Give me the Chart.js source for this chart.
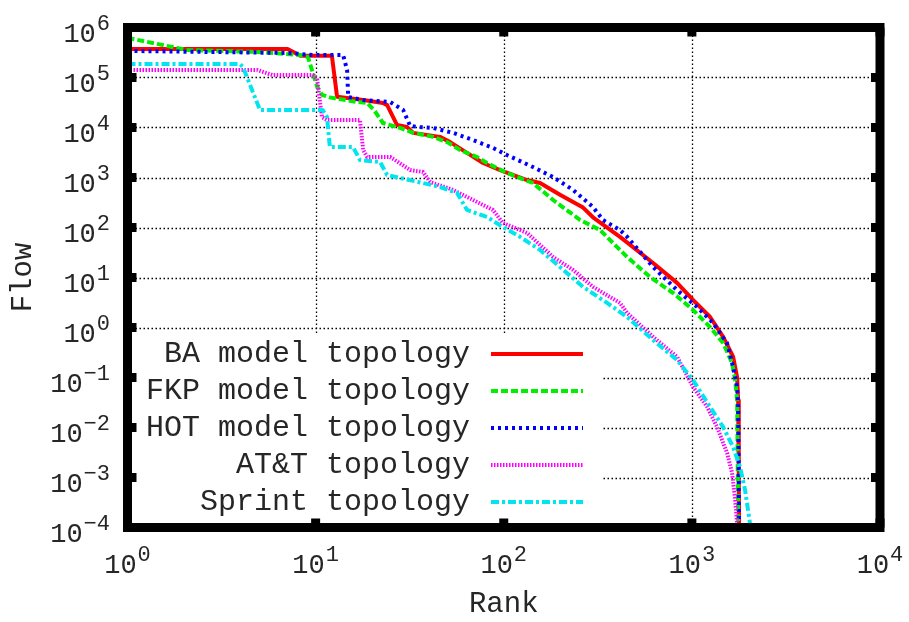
<!DOCTYPE html>
<html>
<head>
<meta charset="utf-8">
<title>Flow vs Rank</title>
<script src="https://cdn.jsdelivr.net/npm/chart.js@4.4.1/dist/chart.umd.min.js"></script>
<style>
  html, body { margin: 0; padding: 0; background: #fff; }
  #flowChart { display: block; }
</style>
</head>
<body>
<canvas id="flowChart" width="909" height="622"></canvas>
<script>
// Tick exponents, labels are drawn as 10^n
const xExponents = [0, 1, 2, 3, 4];
const yExponents = [-4, -3, -2, -1, 0, 1, 2, 3, 4, 5, 6];

const seriesLabels = ['BA model topology', 'FKP model topology', 'HOT model topology', 'AT&T topology', 'Sprint topology'];

// Values (rank, flow)
const baRank = [1, 7.1, 8.3, 12.2, 13.0, 17.9, 22.8, 24.0, 27.1, 30.6, 33.0, 45.8, 51.9, 63.8, 77.6, 95.6, 133, 156, 199, 264, 298, 415, 622, 834, 1014, 1250, 1466, 1656, 1740, 1762, 1775, 1785];
const baFlow = [3.7e5, 3.7e5, 2.73e5, 2.73e5, 4.1e4, 3.55e4, 3.1e4, 2.8e4, 1.12e4, 1.02e4, 7.8e3, 6.5e3, 5.1e3, 3.1e3, 1.95e3, 1.41e3, 890, 776, 450, 250, 160, 65, 19.5, 7.8, 3.55, 1.62, 0.65, 0.26, 0.1, 0.035, 0.001, 5e-5];

const fkpRank = [1, 2.07, 4.9, 8.3, 9.1, 10.2, 10.8, 11.9, 16.6, 18.8, 20.5, 22.8, 28.1, 33.0, 42.1, 50.0, 58.6, 72.1, 81.5, 104, 143, 183, 255, 325, 415, 453, 600, 795, 1014, 1250, 1466, 1636, 1698, 1740, 1755, 1765];
const fkpFlow = [6.2e5, 3.55e5, 3.24e5, 2.82e5, 2.57e5, 6.5e4, 4.5e4, 4.0e4, 3.24e4, 3.1e4, 2.2e4, 1.23e4, 9.8e3, 7.8e3, 6.5e3, 5.1e3, 3.55e3, 2.57e3, 1.95e3, 1.23e3, 776, 355, 141, 89, 35.5, 25.7, 10.2, 4.9, 2.24, 1.02, 0.49, 0.195, 0.089, 0.035, 0.001, 5e-5];

const hotRank = [1, 7.0, 9.7, 14.0, 14.7, 14.9, 17.9, 24.9, 29.2, 31.8, 35.9, 42.1, 53.8, 68.7, 87.7, 104, 143, 183, 234, 298, 337, 415, 453, 622, 834, 1066, 1297, 1538, 1656, 1740, 1762, 1775, 1783];
const hotFlow = [3.4e5, 3.1e5, 2.82e5, 2.82e5, 1.41e5, 4.07e4, 3.55e4, 3.24e4, 2.24e4, 1.07e4, 1.02e4, 9.8e3, 7.8e3, 5.6e3, 3.9e3, 2.82e3, 1.62e3, 1.02e3, 562, 257, 141, 89, 65, 16.2, 5.6, 2.57, 1.23, 0.49, 0.162, 0.065, 0.026, 0.001, 5e-5];

const attRank = [1, 4.9, 5.25, 5.9, 9.7, 10.2, 10.8, 11.5, 17.2, 17.9, 18.8, 24.9, 27.1, 31.8, 37.2, 40.6, 53.8, 68.7, 87.7, 99, 133, 183, 234, 298, 415, 453, 622, 834, 1014, 1205, 1361, 1538, 1636, 1698, 1740, 1745];
const attFlow = [1.41e5, 1.41e5, 1.29e5, 1.12e5, 1.12e5, 8.9e4, 1.62e4, 1.41e4, 1.41e4, 3.55e3, 2.57e3, 2.57e3, 2.1e3, 1.41e3, 1.29e3, 813, 562, 355, 224, 123, 78, 25.7, 14.1, 6.5, 3.1, 1.95, 0.65, 0.26, 0.065, 0.026, 0.0102, 0.0031, 0.00123, 3.55e-4, 1.2e-4, 5e-5];

const sprintRank = [1, 3.96, 4.11, 5.06, 10.9, 11.5, 11.9, 15.8, 17.2, 22.0, 24.0, 28.1, 37.2, 45.8, 56.5, 63.8, 81.5, 99, 122, 156, 199, 264, 354, 453, 622, 834, 1014, 1250, 1466, 1656, 1804, 1918, 2037, 2060];
const sprintFlow = [1.86e5, 1.86e5, 1.62e5, 2.24e4, 2.24e4, 1.62e4, 4.07e3, 4.07e3, 2.24e3, 2.04e3, 1.12e3, 977, 776, 646, 490, 224, 162, 102, 65, 35.5, 16.2, 6.5, 3.1, 1.62, 0.56, 0.224, 0.089, 0.0257, 0.0102, 0.00407, 0.00162, 5.6e-4, 1.2e-4, 5e-5];

const FONT = '"Liberation Mono", "DejaVu Sans Mono", monospace';
const TEXT_COLOR = '#262626';

// gnuplot-like line styles, in series order
const SERIES_STYLES = [
  { color: '#ff0000', dash: [] },
  { color: '#00ee00', dash: [7, 3] },
  { color: '#0000ff', dash: [3, 4] },
  { color: '#ff00ff', dash: [1.5, 1.5] },
  { color: '#00e5ee', dash: [8, 3, 3, 3] }
];
const LINE_WIDTH = 4;

// key (legend) layout
const KEY = { textRight: 470, sampleLeft: 491, sampleRight: 583, firstRow: 354, rowStep: 37,
  box: { left: 136, top: 333, right: 602, bottom: 522 } };

function toPoints(ranks, flows) {
  return ranks.map((r, i) => ({ x: r, y: flows[i] }));
}

const seriesData = [
  toPoints(baRank, baFlow),
  toPoints(fkpRank, fkpFlow),
  toPoints(hotRank, hotFlow),
  toPoints(attRank, attFlow),
  toPoints(sprintRank, sprintFlow)
];

// "10" with a raised exponent, like gnuplot's enhanced text
function drawPower(ctx, exp, x, baseY, anchor) {
  const base = '10';
  const sup = String(exp).replace('-', '\u2212');
  ctx.font = '27px ' + FONT;
  const w1 = ctx.measureText(base).width;
  ctx.font = '22px ' + FONT;
  const w2 = ctx.measureText(sup).width;
  const total = w1 + 1 + w2;
  const start = anchor === 'right' ? x - total : x - total / 2;
  ctx.textAlign = 'left';
  ctx.textBaseline = 'alphabetic';
  ctx.font = '27px ' + FONT;
  ctx.fillText(base, start, baseY);
  ctx.font = '22px ' + FONT;
  ctx.fillText(sup, start + w1 + 1, baseY - 12);
}

const gnuplotFrame = {
  id: 'gnuplotFrame',
  beforeDatasetsDraw(chart) {
    const { ctx, chartArea: a, scales: { x, y } } = chart;
    ctx.save();
    // dotted grid
    ctx.strokeStyle = '#000';
    ctx.lineWidth = 1.3;
    ctx.setLineDash([1.5, 2.5]);
    xExponents.slice(1, -1).forEach(e => {
      const px = Math.round(x.getPixelForValue(Math.pow(10, e))) + 0.5;
      ctx.beginPath(); ctx.moveTo(px, a.top); ctx.lineTo(px, a.bottom); ctx.stroke();
    });
    yExponents.slice(1, -1).forEach(e => {
      const py = Math.round(y.getPixelForValue(Math.pow(10, e))) + 0.5;
      ctx.beginPath(); ctx.moveTo(a.left, py); ctx.lineTo(a.right, py); ctx.stroke();
    });
    // opaque key box
    ctx.setLineDash([]);
    ctx.fillStyle = '#fff';
    ctx.fillRect(KEY.box.left, KEY.box.top, KEY.box.right - KEY.box.left, KEY.box.bottom - KEY.box.top);
    ctx.restore();
  },
  afterDatasetsDraw(chart) {
    const { ctx, chartArea: a, scales: { x, y } } = chart;
    ctx.save();
    // thick border
    ctx.strokeStyle = '#000';
    ctx.lineWidth = 9;
    ctx.strokeRect(a.left, a.top, a.right - a.left, a.bottom - a.top);

    // inward major ticks
    const tickLen = 9;
    xExponents.forEach(e => {
      const px = x.getPixelForValue(Math.pow(10, e));
      ctx.beginPath(); ctx.moveTo(px, a.bottom); ctx.lineTo(px, a.bottom - tickLen); ctx.stroke();
      ctx.beginPath(); ctx.moveTo(px, a.top); ctx.lineTo(px, a.top + tickLen); ctx.stroke();
    });
    yExponents.forEach(e => {
      const py = y.getPixelForValue(Math.pow(10, e));
      ctx.beginPath(); ctx.moveTo(a.left, py); ctx.lineTo(a.left + tickLen, py); ctx.stroke();
      ctx.beginPath(); ctx.moveTo(a.right, py); ctx.lineTo(a.right - tickLen, py); ctx.stroke();
    });

    // tick labels
    ctx.fillStyle = TEXT_COLOR;
    xExponents.forEach(e => {
      drawPower(ctx, e, x.getPixelForValue(Math.pow(10, e)), a.bottom + 45, 'center');
    });
    yExponents.forEach(e => {
      drawPower(ctx, e, 110, y.getPixelForValue(Math.pow(10, e)) + 14, 'right');
    });

    // axis titles
    ctx.font = '29px ' + FONT;
    ctx.textAlign = 'center';
    ctx.textBaseline = 'middle';
    ctx.fillText('Rank', (a.left + a.right) / 2, 604);
    ctx.save();
    ctx.translate(23, (a.top + a.bottom) / 2);
    ctx.rotate(-Math.PI / 2);
    ctx.fillText('Flow', 0, 0);
    ctx.restore();

    // key
    ctx.font = '30px ' + FONT;
    ctx.textAlign = 'right';
    seriesLabels.forEach((label, i) => {
      const ry = KEY.firstRow + i * KEY.rowStep;
      ctx.fillStyle = TEXT_COLOR;
      ctx.fillText(label, KEY.textRight, ry);
      ctx.strokeStyle = SERIES_STYLES[i].color;
      ctx.lineWidth = LINE_WIDTH;
      ctx.setLineDash(SERIES_STYLES[i].dash);
      ctx.beginPath(); ctx.moveTo(KEY.sampleLeft, ry); ctx.lineTo(KEY.sampleRight, ry); ctx.stroke();
    });
    ctx.restore();
  }
};

new Chart(document.getElementById('flowChart').getContext('2d'), {
  type: 'line',
  data: {
    datasets: seriesData.map((pts, i) => ({
      label: seriesLabels[i],
      data: pts,
      borderColor: SERIES_STYLES[i].color,
      borderDash: SERIES_STYLES[i].dash,
      borderWidth: LINE_WIDTH,
      borderCapStyle: 'butt',
      borderJoinStyle: 'round',
      pointRadius: 0,
      tension: 0,
      fill: false,
      order: seriesData.length - i
    }))
  },
  options: {
    responsive: false,
    animation: false,
    devicePixelRatio: 1,
    layout: { padding: { left: 127.5, right: 29, top: 27.5, bottom: 94.5 } },
    plugins: { legend: { display: false }, tooltip: { enabled: false } },
    scales: {
      x: { type: 'logarithmic', min: 1, max: 10000, display: false },
      y: { type: 'logarithmic', min: 1e-4, max: 1e6, display: false }
    }
  },
  plugins: [gnuplotFrame]
});
</script>
</body>
</html>
